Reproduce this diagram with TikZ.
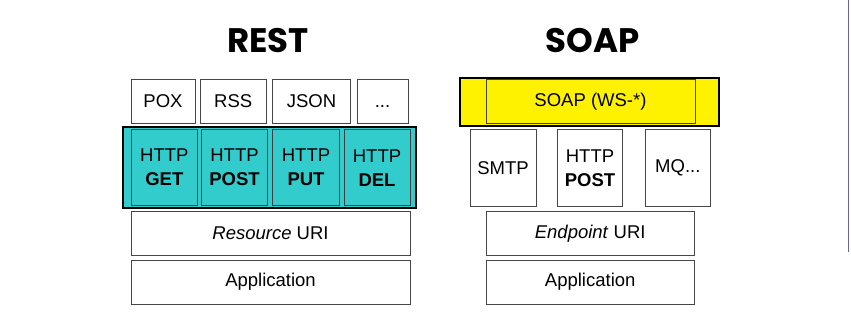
\documentclass[tikz,border=0pt]{standalone}
\usepackage{fontspec}
\setmainfont{Liberation Sans}
\newfontfamily\titlefont{Poppins}
\definecolor{tealfill}{RGB}{51,204,204}
\definecolor{boxline}{RGB}{70,70,70}
\begin{document}
\begin{tikzpicture}[x=1pt,y=-1pt,
  box/.style={draw=boxline,line width=0.9pt,fill=white,inner sep=0pt,align=center,
    font=\fontsize{18.5}{24}\selectfont},
  tealcell/.style={box,fill=tealfill,draw=black!75},
  outerband/.style={draw=black,line width=2pt,inner sep=0pt},
  title/.style={font=\titlefont\bfseries\fontsize{34}{40}\selectfont,inner sep=0pt}
]
\useasboundingbox (0,0) rectangle (851,331);
% titles
\node[title] (resttitle) at (268,41) {REST};
\node[title] (soaptitle) at (592.5,41) {SOAP};
% REST top formats
\node[box,minimum width=64pt,minimum height=44pt] (pox) at (163,101) {POX};
\node[box,minimum width=65.5pt,minimum height=44pt] (rss) at (233.2,101) {RSS};
\node[box,minimum width=78pt,minimum height=44pt] (json) at (311.5,101) {JSON};
\node[box,minimum width=51pt,minimum height=44pt] (more) at (382.5,101) {\vphantom{X}...};
% REST HTTP band
\node[outerband,fill=tealfill,minimum width=293pt,minimum height=81pt] (tealband) at (269.5,167.5) {};
\node[tealcell,minimum width=66.5pt,minimum height=76.5pt] (get) at (164.3,167.7) {HTTP\\\textbf{GET}};
\node[tealcell,minimum width=66pt,minimum height=76.5pt] (post) at (234.5,167.7) {HTTP\\\textbf{POST}};
\node[tealcell,minimum width=67pt,minimum height=76.5pt] (put) at (306,167.7) {HTTP\\\textbf{PUT}};
\node[tealcell,minimum width=66pt,minimum height=76.5pt] (del) at (377,167.7) {HTTP\\\textbf{DEL}};
% REST lower
\node[box,minimum width=279pt,minimum height=43.3pt] (resuri) at (270.5,233.3) {\textit{Resource} URI};
\node[box,minimum width=279pt,minimum height=44pt] (restapp) at (270.5,282) {Application};
% SOAP band
\node[outerband,fill=yellow,minimum width=259.5pt,minimum height=47.7pt] (yellowband) at (589.7,102.2) {};
\node[box,fill=yellow,draw=black!75,minimum width=209pt,minimum height=43.5pt] (soapws) at (590.5,101.7) {SOAP (WS-*)};
% SOAP transports
\node[box,minimum width=66pt,minimum height=77.5pt] (smtp) at (503,168.2) {SMTP};
\node[box,minimum width=65.4pt,minimum height=77.5pt] (httppost) at (590,168.2) {HTTP\\\textbf{POST}};
\node[box,minimum width=65.7pt,minimum height=77.5pt] (mq) at (677.8,168.2) {MQ...};
% SOAP lower
\node[box,minimum width=208.3pt,minimum height=43.3pt] (epuri) at (590.2,233.3) {\textit{Endpoint} URI};
\node[box,minimum width=208.3pt,minimum height=44pt] (soapapp) at (590.2,282) {Application};
% stray edge line at right
\coordinate (edgetop) at (848.3,0);
\coordinate (edgebot) at (848.3,252);
\draw[line width=1.3pt,color=gray!80!blue] (edgetop) -- (edgebot);
\end{tikzpicture}
\end{document}
